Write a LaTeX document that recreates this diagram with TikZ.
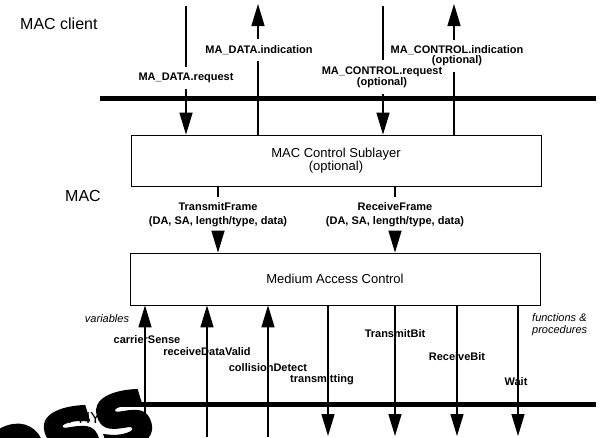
\documentclass[tikz,border=0pt]{standalone}
\usepackage{fontspec}
\setmainfont{Liberation Sans}
\newfontfamily\heavyfont{DejaVu Sans Bold}[FakeBold=5]
\usetikzlibrary{positioning,arrows.meta}

\begin{document}
\begin{tikzpicture}[x=1pt,y=-1pt,
  layerbox/.style={draw,line width=0.8pt,minimum width=410pt,align=center,font=\fontsize{13}{12}\selectfont},
  bar/.style={line width=5pt},
  sig/.style={line width=1.4pt},
  tip/.style={-{Triangle[length=22pt,width=13pt]}},
  lbl/.style={font=\fontsize{11}{10}\selectfont\bfseries,align=center,inner xsep=1pt,inner ysep=6pt},
  note/.style={font=\fontsize{11}{12}\selectfont\itshape,align=left,inner sep=0pt},
  layer/.style={font=\fontsize{16}{16}\selectfont,inner sep=0pt},
  blob/.style={font=\heavyfont\fontsize{92}{92}\selectfont,inner sep=0pt}]
\useasboundingbox (0,0) rectangle (602,437);

% Layer names
\node[layer,anchor=west] (client) at (20,24) {MAC client};
\node[layer,anchor=west] (maclayer) at (65,196) {MAC};
\node[layer,anchor=east] (phy) at (101,418) {PHY};

% Service boundaries
\coordinate (topL) at (100,98);
\coordinate (topR) at (596,98);
\coordinate (botL) at (100,404);
\coordinate (botR) at (596,404);
\draw[bar] (topL) -- (topR);
\draw[bar] (botL) -- (botR);

% Sublayers
\node[layerbox,minimum height=51pt] (ctrl) at (336,160.5) {MAC Control Sublayer\\(optional)};
\node[layerbox,minimum height=52pt] (mac) at (335,279) {Medium Access Control};

% Client primitives
\coordinate (reqin) at (186,6);
\coordinate (dindout) at (258,4);
\coordinate (creqin) at (383,6);
\coordinate (cindout) at (454,4);
\node[lbl] (req) at (186,78) {MA\_DATA.request};
\node[lbl] (dind) at (259,50) {MA\_DATA.indication};
\node[lbl,font=\fontsize{11}{9}\selectfont\bfseries] (creq) at (382,77) {MA\_CONTROL.request\\(optional)};
\node[lbl] (cind) at (457,56) {MA\_CONTROL.indication\\(optional)};
\draw[sig] (reqin) -- (req);
\draw[sig,tip] (req) -- (req |- ctrl.north);
\draw[sig] (dindout |- ctrl.north) -- (dindout |- dind.south);
\draw[sig,tip] (dindout |- dind.north) -- (dindout);
\draw[sig] (creqin) -- (creqin |- creq.north);
\draw[sig,tip] (creqin |- creq.south) -- (creqin |- ctrl.north);
\draw[sig] (cindout |- ctrl.north) -- (cindout |- cind.south);
\draw[sig,tip] (cindout |- cind.north) -- (cindout);

% Frames
\node[lbl,font=\fontsize{11}{14}\selectfont\bfseries] (txf) at (218,215) {TransmitFrame\\(DA, SA, length/type, data)};
\node[lbl,font=\fontsize{11}{14}\selectfont\bfseries] (rxf) at (395,215) {ReceiveFrame\\(DA, SA, length/type, data)};
\draw[sig] (txf |- ctrl.south) -- (txf);
\draw[sig,tip] (txf) -- (txf |- mac.north);
\draw[sig] (rxf |- ctrl.south) -- (rxf);
\draw[sig,tip] (rxf) -- (rxf |- mac.north);

% Variables
\coordinate (cs) at (145,437);
\coordinate (rdv) at (207,437);
\coordinate (cd) at (268,437);
\draw[sig,tip] (cs) -- (cs |- mac.south);
\draw[sig,tip] (rdv) -- (rdv |- mac.south);
\draw[sig,tip] (cd) -- (cd |- mac.south);
\node[lbl] (csl) at (147,340) {carrierSense};
\node[lbl] (rdvl) at (207,352) {receiveDataValid};
\node[lbl] (cdl) at (268,368) {collisionDetect};

% Functions & procedures
\coordinate (tr) at (328,436);
\coordinate (tb) at (395,436);
\coordinate (rb) at (457,436);
\coordinate (wt) at (518,436);
\draw[sig,tip] (tr |- mac.south) -- (tr);
\draw[sig,tip] (tb |- mac.south) -- (tb);
\draw[sig,tip] (rb |- mac.south) -- (rb);
\draw[sig,tip] (wt |- mac.south) -- (wt);
\node[lbl] (trl) at (322,380) {transmitting};
\node[lbl] (tbl) at (395,334) {TransmitBit};
\node[lbl] (rbl) at (457,357) {ReceiveBit};
\node[lbl] (wtl) at (516,382) {Wait};

\node[note] (vars) at (107,319) {variables};
\node[note,anchor=west] (funcs) at (532,325) {functions \&\\procedures};

% Overlay
\begin{scope}
\clip (0,0) rectangle (602,437);
\node[blob,rotate=17,anchor=base west] (ovl) at (-7,486) {ess};
\end{scope}
\end{tikzpicture}
\end{document}
